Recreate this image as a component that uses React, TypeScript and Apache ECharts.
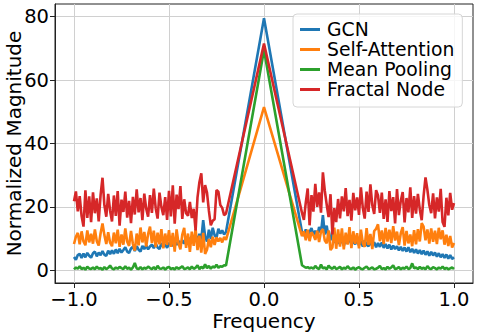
import React, { useEffect, useRef } from "react";
import * as echarts from "echarts";

// Frequency grid: -1.00..-0.20 and 0.20..1.00 in steps of 0.01, plus the centre 0
const leftFreq: number[] = Array.from({ length: 81 }, (_, i) => Math.round((-1 + i * 0.01) * 100) / 100);
const rightFreq: number[] = Array.from({ length: 81 }, (_, i) => Math.round((0.2 + i * 0.01) * 100) / 100);
const centerFreq = 0;

const seriesNames = ["GCN", "Self-Attention", "Mean Pooling", "Fractal Node"];
const colors = ["#1f77b4", "#ff7f0e", "#2ca02c", "#d62728"];
const peaks = [79.5, 51.5, 69.5, 71.5];

const gcnLeft = [
  4.2, 3.3, 4.8, 5.2, 3.9, 5.3, 4.1, 5.5, 4.6, 4.0,
  5.4, 5.9, 4.4, 5.6, 4.8, 6.1, 4.9, 4.6, 6.2, 5.1,
  6.3, 5.2, 6.6, 5.4, 6.8, 5.6, 6.4, 7.3, 5.9, 5.5,
  6.9, 7.4, 6.1, 7.6, 6.5, 5.9, 7.7, 6.7, 7.9, 6.6,
  7.5, 8.1, 7.0, 8.4, 7.2, 6.7, 8.6, 7.4, 8.3, 7.1,
  8.5, 8.9, 7.6, 9.1, 8.0, 9.3, 8.1, 9.5, 8.4, 9.8,
  8.6, 9.9, 10.6, 8.8, 11.1, 9.4, 11.5, 9.7, 15.8, 10.7,
  9.1, 12.8, 9.9, 13.4, 11.1, 10.3, 13.1, 11.6, 12.6, 11.3,
  12.1,
];
const gcnRight = [
  12.0, 10.9, 12.9, 10.5, 12.2, 13.3, 11.2, 12.5, 10.6, 13.7,
  11.8, 17.4, 11.3, 14.1, 10.2, 9.5, 12.7, 8.6, 11.0, 9.0,
  8.3, 10.2, 7.8, 9.7, 8.5, 10.5, 8.0, 9.3, 8.2, 9.9,
  7.9, 9.2, 7.5, 9.4, 8.1, 7.6, 9.0, 7.7, 8.9, 7.3,
  8.6, 7.4, 8.8, 7.1, 8.3, 6.9, 8.1, 6.6, 7.8, 6.7,
  7.6, 6.3, 7.4, 6.1, 7.2, 5.9, 7.3, 5.7, 6.8, 5.5,
  6.6, 5.3, 6.4, 5.1, 6.2, 4.9, 6.0, 4.6, 5.8, 4.7,
  5.6, 4.3, 5.4, 4.1, 5.1, 3.9, 5.0, 3.7, 4.8, 3.6,
  4.1,
];

const attnLeft = [
  8.3, 10.6, 11.8, 8.2, 12.3, 9.1, 7.9, 12.6, 8.8, 11.5,
  8.4, 12.9, 9.2, 7.8, 11.7, 14.8, 11.1, 8.3, 12.0, 8.7,
  7.6, 11.9, 8.5, 12.8, 7.4, 11.3, 8.1, 13.2, 9.0, 7.7,
  12.4, 8.3, 6.2, 11.6, 7.9, 13.5, 8.8, 12.1, 7.5, 11.4,
  13.8, 8.6, 12.5, 7.3, 11.9, 8.2, 13.0, 6.9, 11.6, 8.0,
  12.7, 7.4, 11.8, 5.9, 12.9, 8.5, 6.6, 11.3, 13.4, 7.1,
  11.6, 5.8, 12.2, 7.7, 13.1, 6.4, 10.9, 5.6, 11.8, 5.2,
  6.5, 9.9, 7.3, 10.6, 8.0, 10.4, 9.1, 10.2, 8.8, 10.5,
  9.6,
];
const attnRight = [
  10.8, 12.3, 9.5, 12.8, 9.2, 12.0, 11.1, 9.6, 12.5, 8.9,
  12.2, 13.0, 9.4, 8.5, 12.6, 6.4, 7.2, 13.5, 6.8, 12.9,
  7.5, 13.2, 6.6, 11.9, 8.1, 13.6, 7.0, 12.3, 8.4, 11.7,
  6.9, 12.8, 8.6, 7.4, 13.3, 8.0, 11.5, 6.7, 12.4, 13.1,
  14.5, 9.2, 12.6, 8.3, 13.4, 9.1, 12.8, 8.6, 13.9, 9.4,
  12.2, 8.0, 11.7, 13.6, 7.8, 12.4, 8.5, 11.3, 7.6, 12.7,
  8.2, 13.0, 9.1, 14.9, 13.8, 9.5, 12.9, 8.4, 13.2, 9.0,
  12.5, 8.3, 13.4, 9.8, 12.6, 8.1, 11.2, 7.7, 10.8, 7.2,
  8.6,
];

const poolLeft = [
  0.3, 0.9, 0.5, 1.3, 0.4, 0.8, 0.2, 1.1, 0.6, 0.4,
  0.9, 0.3, 1.2, 0.5, 0.7, 0.2, 1.0, 0.4, 0.8, 1.5,
  0.6, 0.3, 0.9, 0.5, 1.1, 0.7, 0.4, 1.3, 0.5, 0.8,
  0.2, 0.9, 2.3, 0.6, 0.4, 1.0, 0.3, 0.8, 0.5, 1.2,
  0.7, 0.4, 1.0, 0.3, 1.4, 0.6, 0.5, 0.9, 0.2, 0.8,
  1.1, 0.4, 0.7, 0.3, 1.0, 0.5, 0.8, 1.3, 0.4, 0.6,
  0.9, 0.3, 1.2, 0.5, 0.8, 1.6, 0.4, 1.1, 0.6, 1.9,
  0.7, 1.4, 0.5, 1.2, 0.9, 1.8, 0.8, 1.3, 1.1, 1.6,
  1.5,
];
const poolRight = [
  1.6, 1.2, 0.8, 1.0, 0.6, 0.9, 0.5, 1.4, 0.7, 0.4,
  1.8, 0.6, 0.9, 0.3, 1.5, 0.8, 0.5, 1.2, 0.4, 0.7,
  1.1, 0.3, 0.8, 0.5, 1.3, 0.6, 0.4, 0.9, 0.2, 0.7,
  1.0, 0.5, 0.3, 0.8, 1.2, 0.4, 0.6, 0.9, 0.3, 0.5,
  0.8, 1.4, 0.4, 0.7, 0.3, 1.1, 0.5, 0.9, 1.6, 0.4,
  0.6, 1.0, 0.3, 0.8, 0.5, 1.2, 0.4, 0.7, 2.2, 0.6,
  0.9, 0.4, 1.1, 0.5, 0.8, 0.3, 1.3, 0.6, 0.4, 1.0,
  0.7, 0.3, 0.9, 0.5, 1.2, 0.4, 0.8, 0.3, 0.6, 0.9,
  0.4,
];

const fractalLeft = [
  21.8, 24.9, 18.6, 23.4, 17.1, 13.8, 25.2, 16.5, 23.3, 15.2,
  24.6, 18.0, 22.7, 15.4, 23.8, 29.2, 20.5, 16.9, 24.1, 18.8,
  15.4, 23.6, 17.2, 25.0, 14.1, 22.3, 18.4, 24.8, 16.6, 21.9,
  14.9, 23.2, 17.6, 25.5, 18.3, 22.8, 15.8, 24.2, 19.4, 16.9,
  23.7, 18.1, 25.8, 19.6, 16.3, 24.5, 20.0, 17.4, 23.1, 15.9,
  25.1, 17.0, 26.8, 14.7, 23.9, 19.3, 26.6, 16.2, 22.4, 18.0,
  17.2, 21.6, 16.5, 19.4, 12.6, 22.9, 27.8, 30.6, 21.4, 26.9,
  24.5, 18.8, 14.2, 15.6, 16.1, 25.3, 24.8, 20.6, 19.7, 17.4,
  17.9,
];
const fractalRight = [
  18.1, 15.9, 21.4, 25.8, 14.2, 23.7, 18.5, 27.3, 20.0, 24.6,
  18.2, 30.9, 25.1, 20.7, 16.8, 24.0, 11.3, 19.6, 15.2, 22.5,
  16.4, 23.3, 18.6, 25.9, 17.1, 22.2, 15.7, 24.4, 18.9, 23.0,
  17.5, 26.2, 19.7, 16.3, 24.8, 18.4, 27.1, 20.5, 17.8, 25.3,
  23.6, 18.1, 24.5, 16.2, 22.4, 15.3, 25.0, 18.7, 23.1, 14.8,
  25.6, 17.4, 21.9, 24.7, 15.1, 22.8, 18.3, 26.2, 16.5, 23.4,
  17.9, 24.1, 19.2, 15.8, 23.5, 29.3, 25.4, 20.6, 18.0, 24.3,
  16.4, 23.0, 18.5, 25.7, 15.2, 13.7, 22.9, 17.3, 24.4, 19.1,
  21.2,
];

const xTicks = [-1, -0.5, 0, 0.5, 1];
const xTickLabels = ["\u22121.0", "\u22120.5", "0.0", "0.5", "1.0"];
const yTicks = [0, 20, 40, 60, 80];
const yTickLabels = ["0", "20", "40", "60", "80"];

const FONT = "DejaVu Sans";

function buildSeriesData(left: number[], peak: number, right: number[]) {
  const data: [number, number][] = [];
  left.forEach((v, i) => data.push([leftFreq[i], v]));
  data.push([centerFreq, peak]);
  right.forEach((v, i) => data.push([rightFreq[i], v]));
  return data;
}

export default function App() {
  const ref = useRef<HTMLDivElement>(null);
  useEffect(() => {
    if (!ref.current) return;
    const chart = echarts.init(ref.current, null, { renderer: "svg" });
    const sides = [
      [gcnLeft, gcnRight],
      [attnLeft, attnRight],
      [poolLeft, poolRight],
      [fractalLeft, fractalRight],
    ];
    const series = seriesNames.map((name, k) => ({
      name,
      type: "line",
      data: buildSeriesData(sides[k][0], peaks[k], sides[k][1]),
      showSymbol: false,
      symbol: "none",
      lineStyle: { color: colors[k], width: 2.6 },
      itemStyle: { color: colors[k] },
      z: 3 + k,
    }));
    chart.setOption({
      animation: false,
      backgroundColor: "#ffffff",
      grid: {
        left: 55,
        right: 5,
        top: 4,
        bottom: 50,
        containLabel: false,
        outerBoundsMode: "none",
        show: true,
        borderColor: "#222",
        borderWidth: 1,
        backgroundColor: "transparent",
      },
      legend: {
        orient: "vertical",
        left: 293,
        top: 14,
        padding: [6, 8, 8, 7],
        itemWidth: 20,
        itemHeight: 3,
        itemGap: 1,
        icon: "rect",
        backgroundColor: "rgba(255,255,255,0.8)",
        borderColor: "#d6d6d6",
        borderWidth: 1,
        borderRadius: 4,
        textStyle: { fontFamily: FONT, fontSize: 18.8, color: "#000", padding: [0, 0, 0, 2] },
        data: seriesNames,
      },
      xAxis: {
        type: "value",
        min: -1.1,
        max: 1.1,
        axisLine: { show: true, onZero: false, lineStyle: { color: "#222", width: 1 } },
        axisTick: { show: true, length: 5, inside: false, customValues: xTicks, lineStyle: { color: "#222" } },
        axisLabel: {
          customValues: xTicks,
          fontFamily: FONT,
          fontSize: 19.5,
          lineHeight: 18,
          color: "#000",
          margin: 7,
          formatter: (v: number) => {
            const i = xTicks.findIndex((t) => Math.abs(t - v) < 1e-6);
            return i >= 0 ? xTickLabels[i] : "";
          },
        },
        splitLine: { show: true, lineStyle: { color: "#d0d0d0", width: 1 } },
        name: "Frequency",
        nameLocation: "middle",
        nameGap: 28,
        nameMoveOverlap: false,
        nameTextStyle: { fontFamily: FONT, fontSize: 20, lineHeight: 20, color: "#000" },
      },
      yAxis: {
        type: "value",
        min: -4,
        max: 84,
        axisLine: { show: true, onZero: false, lineStyle: { color: "#222", width: 1 } },
        axisTick: { show: true, length: 5, inside: false, customValues: yTicks, lineStyle: { color: "#222" } },
        axisLabel: {
          customValues: yTicks,
          fontFamily: FONT,
          fontSize: 19.5,
          color: "#000",
          margin: 6,
          formatter: (v: number) => {
            const i = yTicks.findIndex((t) => Math.abs(t - v) < 1e-6);
            return i >= 0 ? yTickLabels[i] : "";
          },
        },
        splitLine: { show: true, lineStyle: { color: "#d0d0d0", width: 1 } },
        name: "Normalized Magnitude",
        nameLocation: "middle",
        nameGap: 31,
        nameMoveOverlap: false,
        nameTextStyle: { fontFamily: FONT, fontSize: 20, color: "#000" },
      },
      series,
    });
    return () => chart.dispose();
  }, []);
  return (
    <div
      ref={ref}
      style={{ position: "fixed", left: 0, top: 0, width: 478, height: 333, background: "#fff" }}
    />
  );
}
